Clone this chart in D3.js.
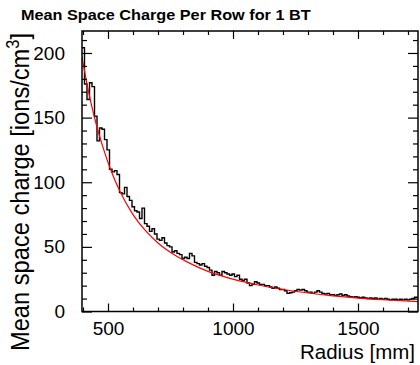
<!DOCTYPE html>
<html>
<head>
<meta charset="utf-8">
<script src="https://cdn.jsdelivr.net/npm/d3@7"></script>
<style>
  body { margin: 0; background: #fff; }
  svg text { font-family: "Liberation Sans", Arial, sans-serif; }
</style>
</head>
<body>
<div id="chart"></div>
<script>
// histogram: mean space charge per row, bins of binWidth mm starting at binStart
const binStart = 396;
const binWidth = 10;
const chargeValues = [
  204, 176, 164, 177, 174, 151, 132, 142, 141, 133,
  125, 110, 108, 109, 106, 92, 91, 96, 89, 86,
  81, 78, 77, 72, 80, 68, 66, 62, 64, 60,
  56, 55, 57, 53, 51, 50, 46, 47, 45, 44,
  41, 42, 41, 45, 43, 38, 37, 36, 37, 35,
  34, 32, 28, 31, 30, 28, 31, 30, 29, 28,
  29, 27, 28, 25, 24, 25, 22, 20, 21, 23,
  22, 21, 21, 20, 20, 19, 18, 19, 18, 17,
  17, 16, 14, 14.5, 15, 16, 17, 16.5, 17, 16,
  15, 15, 14, 15, 16, 15, 14, 13.5, 14, 13,
  13, 12.5, 13, 13.5, 12.5, 13, 12, 11.5, 11, 11.5,
  11, 10.5, 11, 10.5, 10, 10.5, 10, 10.5, 9.5, 10,
  9.5, 10, 9.5, 9, 9.5, 9.5, 9, 9.5, 9, 9.5,
  9, 9.5, 10, 11, 11
];

// fit curve
const fitRadius = [396, 420, 450, 480, 510, 550, 600, 650, 700, 760, 820, 900, 1000, 1100, 1200, 1300, 1400, 1500, 1600, 1740];
const fitCharge = [197, 172, 147, 127, 110, 92, 75, 62.5, 53, 44.5, 38, 31, 25, 20.5, 17, 14.3, 12.1, 10.4, 9.1, 7.6];

const xDomain = [396, 1740];
const yDomain = [0, 217];
const xMajor = [500, 1000, 1500];
const yMajor = [0, 50, 100, 150, 200];

const W = 420, H = 365;
const frame = { left: 82, right: 418, top: 31, bottom: 311.5 };

const svg = d3.select('#chart').append('svg')
  .attr('width', W).attr('height', H);

const x = d3.scaleLinear().domain(xDomain).range([frame.left, frame.right]);
const y = d3.scaleLinear().domain(yDomain).range([frame.bottom, frame.top]);

svg.append('clipPath').attr('id', 'plot-clip')
  .append('rect')
  .attr('x', frame.left).attr('y', frame.top)
  .attr('width', frame.right - frame.left)
  .attr('height', frame.bottom - frame.top);

// Title (ROOT draws it a bit wide, so stretch horizontally)
svg.append('text')
  .attr('transform', 'translate(21,20) scale(1.16,1)')
  .attr('font-size', 14).attr('font-weight', 'bold')
  .text('Mean Space Charge Per Row for 1 BT');

// Histogram as a step line
const steps = [];
chargeValues.forEach((v, i) => {
  steps.push([binStart + i * binWidth, v]);
  steps.push([binStart + (i + 1) * binWidth, v]);
});
const plot = svg.append('g').attr('clip-path', 'url(#plot-clip)');

plot.append('path')
  .datum(steps)
  .attr('fill', 'none')
  .attr('stroke', '#000')
  .attr('stroke-width', 1.4)
  .attr('d', d3.line().x(d => x(d[0])).y(d => y(d[1])));

// Fit curve
plot.append('path')
  .datum(d3.zip(fitRadius, fitCharge))
  .attr('fill', 'none')
  .attr('stroke', '#ff0000')
  .attr('stroke-width', 1.2)
  .attr('d', d3.line().curve(d3.curveMonotoneX).x(d => x(d[0])).y(d => y(d[1])));

// Axes (ROOT style: ticks inside, on all four sides)
const xMinor = d3.range(400, 1741, 100).filter(v => !xMajor.includes(v));
const yMinor = d3.range(0, 217, 10).filter(v => !yMajor.includes(v));

const bottomAxis = d3.axisBottom(x).tickValues(xMajor).tickSize(-8).tickPadding(10).tickFormat(d3.format('d'));
const bottomMinor = d3.axisBottom(x).tickValues(xMinor).tickSize(-4).tickFormat('');
const topAxis = d3.axisTop(x).tickValues(xMajor).tickSize(-8).tickFormat('');
const topMinor = d3.axisTop(x).tickValues(xMinor).tickSize(-4).tickFormat('');
const leftAxis = d3.axisLeft(y).tickValues(yMajor).tickSize(-10).tickPadding(17).tickFormat(d3.format('d'));
const leftMinor = d3.axisLeft(y).tickValues(yMinor).tickSize(-5).tickFormat('');
const rightAxis = d3.axisRight(y).tickValues(yMajor).tickSize(-10).tickFormat('');
const rightMinor = d3.axisRight(y).tickValues(yMinor).tickSize(-5).tickFormat('');

function styleAxis(g) {
  g.select('.domain').remove();
  g.selectAll('line').attr('stroke', '#000').attr('stroke-width', 1.2);
  g.selectAll('text').attr('fill', '#000').attr('font-size', 19)
    .attr('font-family', '"Liberation Sans", Arial, sans-serif');
}

svg.append('g').attr('transform', `translate(0,${frame.bottom})`).call(bottomAxis).call(styleAxis);
svg.append('g').attr('transform', `translate(0,${frame.bottom})`).call(bottomMinor).call(styleAxis);
svg.append('g').attr('transform', `translate(0,${frame.top})`).call(topAxis).call(styleAxis);
svg.append('g').attr('transform', `translate(0,${frame.top})`).call(topMinor).call(styleAxis);
svg.append('g').attr('transform', `translate(${frame.left},0)`).call(leftAxis).call(styleAxis);
svg.append('g').attr('transform', `translate(${frame.left},0)`).call(leftMinor).call(styleAxis);
svg.append('g').attr('transform', `translate(${frame.right},0)`).call(rightAxis).call(styleAxis);
svg.append('g').attr('transform', `translate(${frame.right},0)`).call(rightMinor).call(styleAxis);

// Frame
svg.append('rect')
  .attr('x', frame.left).attr('y', frame.top)
  .attr('width', frame.right - frame.left)
  .attr('height', frame.bottom - frame.top)
  .attr('fill', 'none')
  .attr('stroke', '#000')
  .attr('stroke-width', 1.5);

// Axis titles
svg.append('text')
  .attr('x', frame.right - 3).attr('y', 359)
  .attr('text-anchor', 'end')
  .attr('font-size', 20.5)
  .text('Radius [mm]');

const yTitle = svg.append('text')
  .attr('transform', `translate(29,${frame.top + 2}) rotate(-90) scale(0.91,1)`)
  .attr('text-anchor', 'end')
  .attr('font-size', 26);
yTitle.append('tspan').text('Mean space charge [ions/cm');
yTitle.append('tspan').attr('dy', -10).attr('font-size', 18).text('3');
yTitle.append('tspan').attr('dy', 10).text(']');
</script>
</body>
</html>
